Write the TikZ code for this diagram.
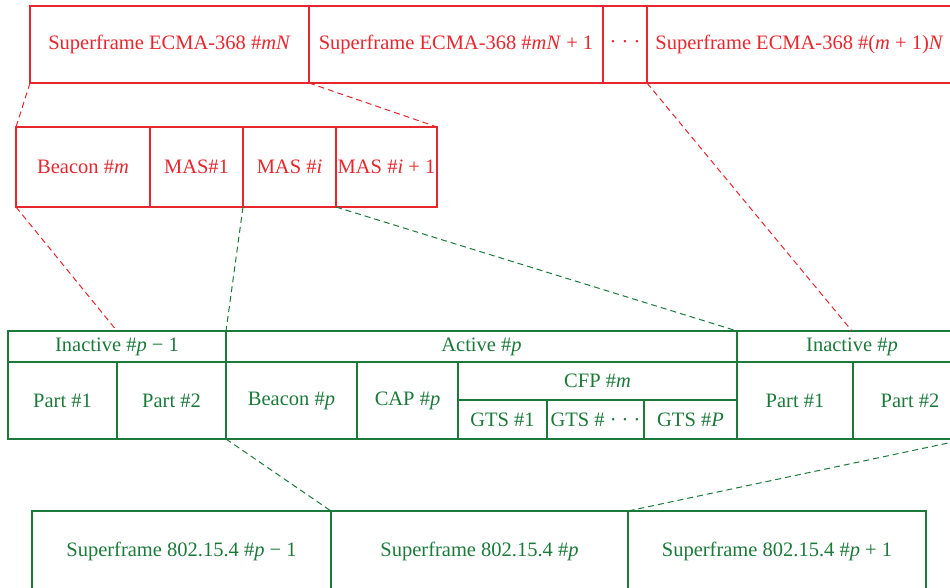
\documentclass[tikz,border=0pt]{standalone}
\usepackage{fontspec}
\setmainfont{Liberation Serif}
\definecolor{ecma}{RGB}{232,38,45}
\definecolor{ieee}{RGB}{27,122,58}
\begin{document}
\begin{tikzpicture}[x=1pt,y=-1pt,font=\fontsize{20.5}{24}\selectfont,
  rbox/.style={draw=ecma,text=ecma,line width=1.2pt,inner sep=0pt,outer sep=0pt},
  gbox/.style={draw=ieee,text=ieee,line width=1.4pt,inner sep=0pt,outer sep=0pt},
  rdash/.style={draw=ecma,line width=1pt,dash pattern=on 6pt off 4pt},
  gdash/.style={draw=ieee,line width=1pt,dash pattern=on 6pt off 4pt}]
\useasboundingbox (0,0) rectangle (950,588);
\clip (0,0) rectangle (950,588);
% ECMA-368 superframes
\node[rbox,minimum width=279,minimum height=77](sf1) at (169.5,44.5) {Superframe ECMA-368 \#\textit{mN}};
\node[rbox,minimum width=294,minimum height=77](sf2) at (456,44.5) {Superframe ECMA-368 \#\textit{mN} + 1};
\node[rbox,minimum width=44,minimum height=77](dots) at (625,44.5) {· · ·};
\node[rbox,minimum width=305,minimum height=77](sf3) at (799.5,44.5) {Superframe ECMA-368 \#(\textit{m} + 1)\textit{N}};
% beacon and MAS slots
\node[rbox,minimum width=134,minimum height=80](bcm) at (83,167) {Beacon \#\textit{m}};
\node[rbox,minimum width=93,minimum height=80](mas1) at (196.5,167) {MAS\#1};
\node[rbox,minimum width=93,minimum height=80](masi) at (289.5,167) {MAS \#\textit{i}};
\node[rbox,minimum width=101,minimum height=80](masj) at (386.5,167) {MAS \#\textit{i} + 1};
% 802.15.4 periods
\node[gbox,minimum width=218,minimum height=31](in1) at (117,346.5) {Inactive \#\textit{p} − 1};
\node[gbox,minimum width=511,minimum height=31](act) at (481.5,346.5) {Active \#\textit{p}};
\node[gbox,minimum width=230,minimum height=31](in2) at (852,346.5) {Inactive \#\textit{p}};
\node[gbox,minimum width=109,minimum height=77](pa1) at (62.5,400.5) {Part \#1};
\node[gbox,minimum width=109,minimum height=77](pa2) at (171.5,400.5) {Part \#2};
\node[gbox,minimum width=131,minimum height=77](bcp) at (291.5,400.5) {Beacon \#\textit{p}};
\node[gbox,minimum width=101,minimum height=77](cap) at (407.5,400.5) {CAP \#\textit{p}};
\node[gbox,minimum width=279,minimum height=38](cfp) at (597.5,381) {CFP \#\textit{m}};
\node[gbox,minimum width=89,minimum height=39](gts1) at (502.5,419.5) {GTS \#1};
\node[gbox,minimum width=97,minimum height=39](gts2) at (595.5,419.5) {GTS \# · · ·};
\node[gbox,minimum width=93,minimum height=39](gts3) at (690.5,419.5) {GTS \#\textit{P}};
\node[gbox,minimum width=116,minimum height=77](pb1) at (795,400.5) {Part \#1};
\node[gbox,minimum width=114,minimum height=77](pb2) at (910,400.5) {Part \#2};
% 802.15.4 superframes
\node[gbox,minimum width=299,minimum height=80](sp1) at (181.5,551) {Superframe 802.15.4 \#\textit{p} − 1};
\node[gbox,minimum width=297,minimum height=80](sp2) at (479.5,551) {Superframe 802.15.4 \#\textit{p}};
\node[gbox,minimum width=298,minimum height=80](sp3) at (777,551) {Superframe 802.15.4 \#\textit{p} + 1};
% zoom lines
\path[rdash] (sf1.south west) -- (bcm.north west) (sf1.south east) -- (masj.north east);
\path[rdash] (bcm.south west) -- (in1.north) (sf3.south west) -- (in2.north);
\path[gdash] (masi.south west) -- (act.north west) (masj.south west) -- (act.north east);
\path[gdash] (pa2.south east) -- (sp2.north west) (pb2.south east) -- (sp3.north west);
\end{tikzpicture}
\end{document}
